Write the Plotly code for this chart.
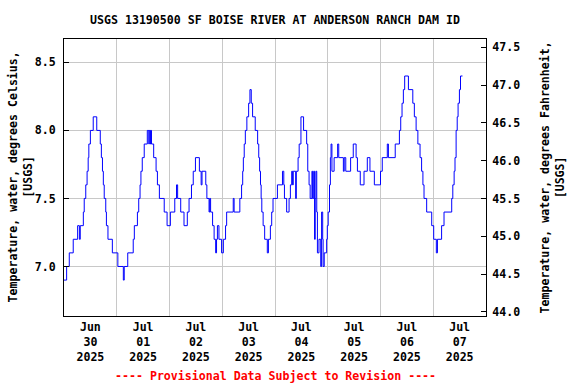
import pandas as pd
import plotly.graph_objects as go

# ---- data ----
# hours after 2025-06-30 00:00 where the 0.1-degC recorded value changes
change_hours = [
    0.0, 1.2, 2.4, 4.2, 6.2, 7.0, 7.4, 8.8, 9.2, 9.9, 10.5, 11.0, 11.3, 12.0, 13.3, 14.9,
    16.5, 17.0, 17.5, 17.9, 18.3, 19.0, 19.3, 20.0, 22.0, 24.5, 27.0, 27.4, 29.0, 31.5,
    32.0, 33.4, 34.0, 34.6, 35.0, 35.6, 36.5, 37.9, 38.6, 38.8, 39.3, 39.5, 39.8, 40.8,
    41.9, 42.5, 43.4, 45.6, 46.9, 48.4, 50.4, 51.2, 51.7, 53.1, 54.6, 56.1, 56.9, 58.0,
    58.8, 59.8, 61.6, 62.4, 62.8, 64.5, 65.0, 66.0, 66.3, 66.7, 67.6, 68.3, 69.0, 69.4,
    69.8, 70.5, 71.7, 72.5, 73.5, 74.0, 77.0, 77.4, 80.0, 80.8, 81.3, 81.6, 82.0, 82.5,
    83.2, 84.0, 84.6, 85.2, 85.8, 87.0, 88.1, 88.6, 89.0, 89.4, 89.7, 90.0, 90.6, 91.3,
    92.5, 93.0, 93.9, 94.5, 95.1, 97.1, 99.4, 100.0, 100.3, 101.3, 102.4, 103.0, 103.6,
    104.0, 104.3, 105.4, 105.7, 106.5, 107.0, 107.8, 109.0, 110.4, 110.9, 111.5, 112.0,
    112.8, 113.1, 113.6, 114.0, 114.3, 114.6, 115.0, 115.3, 116.0, 116.8, 117.2, 117.7,
    117.9, 118.4, 119.5, 119.8, 120.2, 120.8, 121.2, 121.5, 121.9, 122.9, 124.5, 125.0,
    127.1, 127.5, 128.2, 130.4, 131.6, 132.9, 133.5, 134.8, 136.5, 138.0, 139.2, 141.2,
    144.0, 144.8, 147.1, 147.6, 150.7, 152.6, 153.2, 153.8, 154.4, 155.0, 156.7, 158.7,
    159.4, 160.2, 161.0, 162.0, 162.7, 163.3, 163.8, 165.0, 167.3, 168.2, 169.4, 169.9,
    171.8, 172.9, 176.4, 176.9, 177.5, 177.9, 178.4, 178.9, 179.3, 179.9, 180.4, 181.3,
]
temps_c = [
    6.9, 7.0, 7.1, 7.2, 7.3, 7.2, 7.3, 7.4, 7.5, 7.6, 7.7, 7.8, 7.9, 8.0, 8.1, 8.0,
    7.9, 7.8, 7.7, 7.6, 7.5, 7.4, 7.3, 7.2, 7.1, 7.0, 6.9, 7.0, 7.1, 7.2,
    7.3, 7.4, 7.5, 7.6, 7.7, 7.8, 7.9, 8.0, 7.9, 8.0, 7.9, 8.0, 7.9, 7.8,
    7.7, 7.6, 7.5, 7.4, 7.3, 7.4, 7.5, 7.6, 7.5, 7.4, 7.3, 7.4, 7.5, 7.6,
    7.7, 7.8, 7.7, 7.6, 7.7, 7.6, 7.5, 7.4, 7.5, 7.4, 7.3, 7.2, 7.1, 7.2,
    7.3, 7.2, 7.1, 7.2, 7.3, 7.4, 7.5, 7.4, 7.5, 7.6, 7.7, 7.8, 7.9, 8.0,
    8.1, 8.2, 8.3, 8.2, 8.1, 8.0, 7.9, 7.8, 7.7, 7.6, 7.5, 7.4, 7.3, 7.2,
    7.1, 7.2, 7.3, 7.4, 7.5, 7.6, 7.7, 7.6, 7.5, 7.4, 7.5, 7.6, 7.7,
    7.6, 7.7, 7.5, 7.7, 7.8, 7.9, 8.1, 8.0, 7.9, 7.7, 7.6, 7.5,
    7.7, 7.5, 7.7, 7.2, 7.5, 7.7, 7.4, 7.1, 7.2, 7.0, 7.4, 7.2,
    7.0, 7.1, 7.2, 7.3, 7.4, 7.6, 7.8, 7.9, 7.7, 7.8, 7.9, 7.8,
    7.7, 7.8, 7.7, 7.8, 7.9, 7.8, 7.7, 7.6, 7.7, 7.8, 7.7, 7.6,
    7.7, 7.8, 7.9, 7.8, 7.9, 8.0, 8.1, 8.2, 8.3, 8.4, 8.3, 8.2,
    8.1, 8.0, 7.9, 7.8, 7.7, 7.6, 7.5, 7.4, 7.3, 7.2, 7.1, 7.2,
    7.3, 7.4, 7.5, 7.6, 7.7, 7.8, 8.0, 8.1, 8.2, 8.3, 8.4, 8.4,
]

day_labels = ["Jun<br>30<br>2025", "Jul<br>01<br>2025", "Jul<br>02<br>2025",
              "Jul<br>03<br>2025", "Jul<br>04<br>2025", "Jul<br>05<br>2025",
              "Jul<br>06<br>2025", "Jul<br>07<br>2025"]
day_label_dates = ["2025-06-30 12:00", "2025-07-01 12:00", "2025-07-02 12:00",
                   "2025-07-03 12:00", "2025-07-04 12:00", "2025-07-05 12:00",
                   "2025-07-06 12:00", "2025-07-07 12:00"]
celsius_ticks = [7.0, 7.5, 8.0, 8.5]
fahrenheit_ticks = [44.0, 44.5, 45.0, 45.5, 46.0, 46.5, 47.0, 47.5]

c_range = [6.636, 8.672]
f_range = [c * 1.8 + 32 for c in c_range]

base = pd.Timestamp("2025-06-30 00:00")
times = base + pd.to_timedelta(change_hours, unit="h")

FONT = "DejaVu Sans Mono"
fs = 11.6

fig = go.Figure()
fig.add_trace(go.Scatter(x=times, y=temps_c, mode="lines", line_shape="hv",
                         line=dict(color="#0000ff", width=1), showlegend=False,
                         hoverinfo="skip"))
# invisible trace to activate right axis
fig.add_trace(go.Scatter(x=[times[0]], y=[temps_c[0] * 1.8 + 32], yaxis="y2",
                         mode="markers", marker=dict(opacity=0), showlegend=False,
                         hoverinfo="skip"))

fig.update_layout(
    width=576, height=384,
    margin=dict(l=64, r=90, t=39, b=68, autoexpand=False),
    paper_bgcolor="white", plot_bgcolor="white",
    font=dict(family=FONT, size=fs, color="black", weight="bold"),
    title=dict(text="USGS 13190500 SF BOISE RIVER AT ANDERSON RANCH DAM ID",
               x=0.5, xref="paper", xanchor="center",
               y=1 - 20 / 384, yref="container", yanchor="middle",
               font=dict(family=FONT, size=fs, color="black", weight="bold")),
    xaxis=dict(
        type="date", range=["2025-06-30 00:00", "2025-07-08 00:00"],
        tickmode="array", tickvals=day_label_dates, ticktext=day_labels,
        ticks="", showgrid=False, showline=True, linecolor="black", linewidth=1,
        mirror=True, zeroline=False, automargin=False,
        minor=dict(tick0="2025-06-30", dtick=86400000, showgrid=True,
                   gridcolor="#c8c8c8", gridwidth=1, ticks=""),
    ),
    yaxis=dict(
        range=c_range, tickmode="array", tickvals=celsius_ticks,
        ticktext=[f"{v:.1f}" for v in celsius_ticks],
        ticks="inside", ticklen=5, tickcolor="black",
        showgrid=True, gridcolor="#c8c8c8", gridwidth=1,
        showline=True, linecolor="black", linewidth=1, mirror=True,
        zeroline=False, ticklabelstandoff=5, automargin=False,
    ),
    yaxis2=dict(
        range=f_range, overlaying="y", side="right", tickmode="array",
        tickvals=fahrenheit_ticks, ticktext=[f"{v:.1f}" for v in fahrenheit_ticks],
        ticks="inside", ticklen=5, tickcolor="black", showgrid=False,
        showline=True, linecolor="black", linewidth=1, zeroline=False,
        ticklabelstandoff=3, automargin=False,
    ),
    annotations=[
        dict(text="Temperature, water, degrees Celsius,<br>[USGS]",
             xref="paper", yref="paper", x=0, y=0.5, xshift=-44,
             xanchor="center", yanchor="middle", textangle=-90, showarrow=False,
             font=dict(family=FONT, size=fs, color="black", weight="bold")),
        dict(text="Temperature, water, degrees Fahrenheit,<br>[USGS]",
             xref="paper", yref="paper", x=1, y=0.5, xshift=66,
             xanchor="center", yanchor="middle", textangle=-90, showarrow=False,
             font=dict(family=FONT, size=fs, color="black", weight="bold")),
        dict(text="---- Provisional Data Subject to Revision ----",
             xref="paper", yref="paper", x=0.5, y=0, yshift=-60,
             xanchor="center", yanchor="middle", showarrow=False,
             font=dict(family=FONT, size=fs, color="#ff0000", weight="bold")),
    ],
)

fig.write_html("out.html", config={"displayModeBar": False},
               post_script="document.body.style.margin='0';document.body.style.padding='0';")
